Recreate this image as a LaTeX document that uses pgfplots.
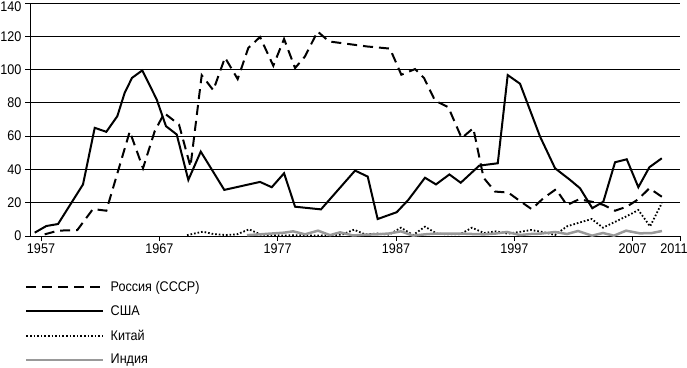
\documentclass[border=0pt]{standalone}
\usepackage{fontspec}
\setmainfont{Liberation Sans}[FakeStretch=0.9]
\usepackage{pgfplots}
\pgfplotsset{compat=1.18}
\newcommand{\lf}{\fontsize{14bp}{16bp}\selectfont}
\begin{document}
\begin{tikzpicture}
\useasboundingbox (-30bp,-132bp) rectangle (657bp,236bp);
\begin{axis}[
  scale only axis, width=650bp, height=233bp,
  xmin=1956.07, xmax=2011, ymin=0, ymax=140,
  axis x line=bottom, axis y line=left,
  axis line style={-, line width=0.9bp, black},
  xtick={1957,1967,1977,1987,1997,2007,2011},
  xticklabels={1957,1967,1977,1987,1997,2007,\hspace*{-12bp}2011},
  ytick={0,20,40,60,80,100,120},
  extra y ticks={140},
  extra y tick style={yticklabel style={yshift=-3.5bp}},
  ymajorgrids, grid style={black, line width=0.9bp},
  tick align=outside, tick style={black, line width=0.9bp},
  major tick length=5bp,
  /pgf/number format/assume math mode=true,
  /pgf/number format/1000 sep={},
  tick label style={font=\lf},
  xticklabel style={yshift=1bp},
  clip=false,
  legend style={at={(0,0)}, anchor=north west, xshift=-5bp, yshift=-43bp,
    draw=none, fill=none, inner sep=0pt, row sep=8.8bp, font=\lf,
    cells={anchor=west}},
  legend image code/.code={\draw[#1] (0bp,0bp) -- (77bp,0bp); \path (81bp,0bp);},
]
\addplot[black, line width=2bp, dash pattern=on 10bp off 6bp] coordinates {
(1957.31,1) (1958.44,3.2) (1960.07,3.6) (1961.39,16.2) (1962.52,15.2)
(1964.50,62.8) (1965.62,40.7) (1966.61,63) (1967.42,73.8) (1968.66,67)
(1969.63,41.7) (1970.58,96.6) (1971.56,87.6) (1972.55,107.2) (1973.62,94.3)
(1974.52,113) (1975.51,119.6) (1976.63,102.3) (1977.54,118.4) (1978.47,100.9)
(1979.31,107.9) (1980.37,122.9) (1981.34,116.9) (1984.53,113.9) (1986.49,112.6)
(1987.45,96.9) (1988.61,100.3) (1989.37,94.9) (1990.30,81.3) (1991.42,77.4)
(1992.55,58.8) (1993.53,64.8) (1994.40,35) (1995.37,26.7) (1996.49,26.1)
(1997.34,21.7) (1998.47,16.1) (1999.45,22.7) (2000.52,28.1) (2001.45,18.5)
(2002.47,22.1) (2003.54,20.6) (2004.52,18.7) (2005.51,15.2) (2006.50,17.6)
(2007.48,22.1) (2008.41,28.7) (2009.46,23.6)
};
\addlegendentry{Россия (СССР)}
\addplot[black, line width=2bp] coordinates {
(1956.47,2) (1957.45,6) (1958.44,7.2) (1960.55,31) (1961.54,65)
(1962.52,62.6) (1963.45,72) (1964.07,86) (1964.69,95) (1965.56,99.5)
(1966.78,82) (1967.56,66) (1968.47,61) (1969.45,33.7) (1970.50,50.7)
(1972.49,27.7) (1975.51,32.5) (1976.50,29.3) (1977.54,37.7) (1978.47,17.6)
(1980.66,16) (1983.54,39.3) (1984.61,35.7) (1985.45,10.2) (1987.06,14.3)
(1988.04,21.7) (1989.45,35) (1990.38,31) (1991.51,37) (1992.47,32)
(1994.04,42.3) (1995.60,43.7) (1996.44,96.7) (1997.48,91.5) (1999.17,59.8)
(2000.44,40.7) (2001.71,33.7) (2002.55,28.7) (2003.59,16.7) (2004.52,20.6)
(2005.51,44.3) (2006.50,46.1) (2007.48,29.3) (2008.41,41.3) (2009.46,46.7)
};
\addlegendentry{США}
\addplot[black, line width=1.8bp, dash pattern=on 1.6bp off 2bp] coordinates {
(1969.34,0.5) (1970.67,2.6) (1971.56,1.2) (1972.55,0.6) (1973.56,1)
(1974.58,4) (1975.59,0.8) (1976.52,0.5) (1977.54,0.3) (1978.47,0.5)
(1979.48,0.3) (1980.49,0.3) (1981.42,0.5) (1982.44,0.8) (1983.45,3.8)
(1984.38,1) (1985.40,1.5) (1986.41,0.8) (1987.42,5) (1988.44,0.6)
(1989.45,5.6) (1990.47,1.4) (1991.40,1) (1992.41,1) (1993.42,5)
(1994.44,1.8) (1995.45,2.8) (1996.47,1.4) (1997.48,2.5) (1998.41,3.6)
(1999.42,2.4) (2000.44,0.6) (2001.45,5.8) (2002.47,8) (2003.54,10.2)
(2004.49,5) (2005.51,8.5) (2006.52,12) (2007.48,15.6) (2008.47,5.8)
(2009.46,19.7)
};
\addlegendentry{Китай}
\addplot[color=black!40, line width=2.5bp] coordinates {
(1974.41,0.5) (1975.51,1) (1976.52,1.5) (1977.54,2) (1978.30,2.8)
(1979.31,1) (1980.41,3.2) (1981.42,0.5) (1982.27,2.2) (1983.37,0.3)
(1984.38,0.8) (1985.40,1) (1986.41,1.5) (1987.42,2.8) (1988.44,0.2)
(1989.45,1) (1990.47,1.5) (1991.40,1.5) (1992.41,1.5) (1993.42,1.2)
(1994.44,1) (1995.45,1.5) (1996.38,2.4) (1997.48,0.6) (1998.41,1.2)
(1999.17,1.4) (2000.44,2.4) (2001.45,1.2) (2002.38,3) (2003.56,0.2)
(2004.49,1.8) (2005.42,0.2) (2006.44,3.2) (2007.62,1.6) (2008.64,1.8)
(2009.48,3)
};
\addlegendentry{Индия}
\end{axis}
\end{tikzpicture}
\end{document}
